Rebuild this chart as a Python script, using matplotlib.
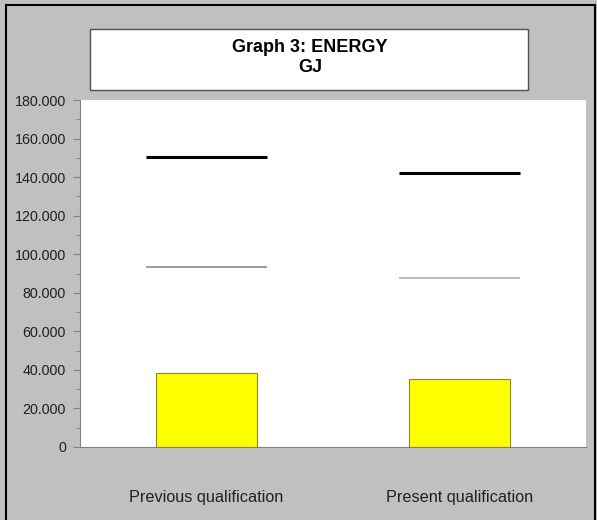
import matplotlib
matplotlib.use("Agg")
import matplotlib.pyplot as plt
from matplotlib.patches import Rectangle
from matplotlib.lines import Line2D
from matplotlib.ticker import MultipleLocator, FuncFormatter
import numpy as np

# values (GJ)
categories = ["Previous qualification", "Present qualification"]
bar_values = [38200, 35300]
upper_limit = [150300, 142300]
mid_limit = [93400, 87700]

W, H = 597, 520
plt.rcParams['font.family'] = ['Liberation Sans', 'DejaVu Sans']

fig = plt.figure(figsize=(W / 100, H / 100), dpi=100, facecolor="#c0c0c0")

def fx(px):
    return px / W

def fy(py):
    return 1 - py / H

# outer frame
fig.add_artist(Line2D([fx(6), fx(6)], [fy(5), 0], color="black", lw=1.5))
fig.add_artist(Line2D([fx(6), fx(595)], [fy(5), fy(5)], color="black", lw=1.5))
fig.add_artist(Line2D([fx(595), fx(595)], [fy(5), 0], color="black", lw=1.5))

# title box
fig.add_artist(Rectangle((fx(90), fy(90)), fx(528) - fx(90), fy(29) - fy(90),
                         transform=fig.transFigure, facecolor="white",
                         edgecolor="#505050", lw=1))
fig.text(fx(310), fy(48), "Graph 3: ENERGY", ha="center", va="center",
         fontsize=13, fontweight="bold")
fig.text(fx(310), fy(67), "GJ", ha="center", va="center",
         fontsize=13, fontweight="bold")

ax = fig.add_axes([fx(80), fy(447), fx(586) - fx(80), fy(100) - fy(447)])
ax.set_facecolor("white")

x = np.arange(len(categories))
ax.bar(x, bar_values, width=0.4, color="#ffff00", edgecolor="#8a8a20", lw=0.8, zorder=2)
ax.hlines(upper_limit, x - 0.24, x + 0.24, color="black", lw=2.2, zorder=3)
ax.hlines(mid_limit, x - 0.24, x + 0.24, color=["#8c8c8c", "#b0b0b0"], lw=1.2, zorder=3)

ax.set_xlim(-0.5, 1.5)
ax.set_ylim(0, 180000)
ax.yaxis.set_major_locator(MultipleLocator(20000))
ax.yaxis.set_minor_locator(MultipleLocator(10000))
ax.yaxis.set_major_formatter(FuncFormatter(
    lambda v, p: "0" if v == 0 else f"{v:,.0f}".replace(",", ".")))

ax.set_xticks(x)
ax.set_xticklabels(categories)
ax.tick_params(axis="x", length=0, pad=31, labelsize=11.7, labelcolor="#202020")
ax.tick_params(axis="y", which="major", length=5, color="#808080",
               labelsize=10.3, labelcolor="#202020", pad=5)
ax.tick_params(axis="y", which="minor", length=3, color="#808080")

for s in ["top", "right"]:
    ax.spines[s].set_visible(False)
ax.spines["left"].set_color("#808080")
ax.spines["bottom"].set_color("#808080")

fig.savefig("out.png", dpi=100, facecolor=fig.get_facecolor())
